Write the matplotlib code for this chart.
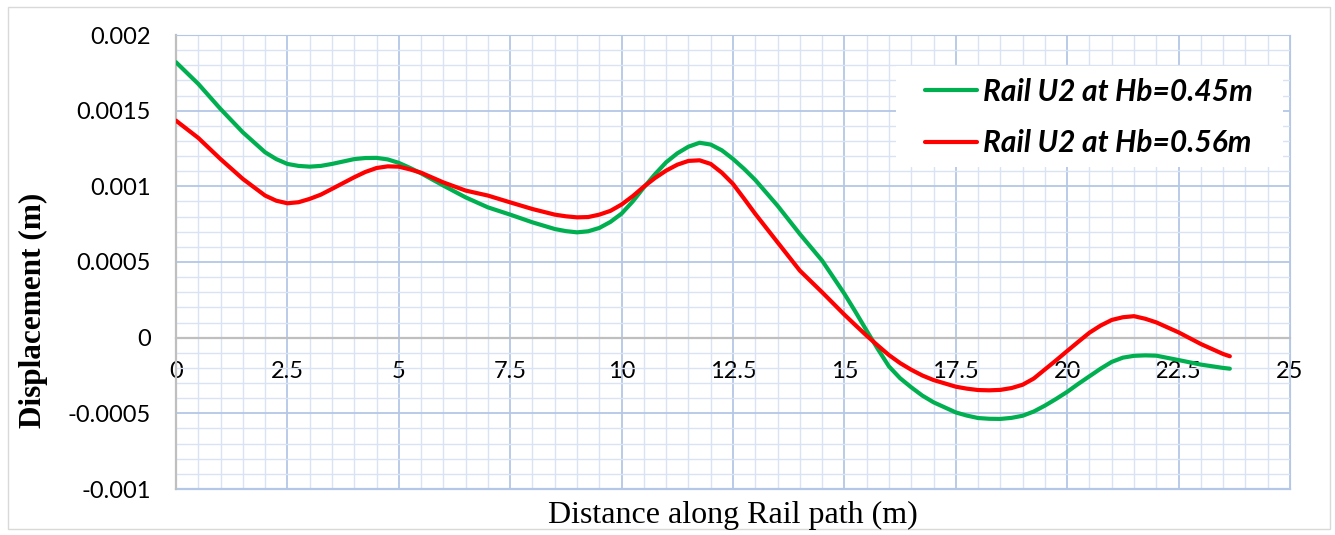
import matplotlib
matplotlib.use('Agg')
import matplotlib.pyplot as plt
from matplotlib.patches import Rectangle
from matplotlib.ticker import MultipleLocator

# data (distance in m, displacement in m)
distance = [0.0, 0.5, 1.0, 1.5, 2.0,
            2.25, 2.5, 2.75, 3.0, 3.25, 3.5,
            4.0, 4.25, 4.5, 4.75, 5.0, 5.25, 5.5,
            6.0, 6.5, 7.0, 7.5, 8.0, 8.5,
            8.75, 9.0, 9.25, 9.5, 9.75, 10.0,
            10.25, 10.5, 10.75, 11.0, 11.25, 11.5,
            11.75, 12.0, 12.25, 12.5, 12.75, 13.0,
            13.5, 14.0, 14.5, 15.0,
            15.25, 15.5, 15.75, 16.0, 16.25, 16.5,
            16.75, 17.0, 17.5, 17.75, 18.0, 18.25,
            18.5, 18.75, 19.0, 19.25, 19.5, 19.75,
            20.0, 20.25, 20.5, 20.75, 21.0, 21.25,
            21.5, 21.75, 22.0, 22.5, 23.0, 23.5, 23.65]

u2_hb045 = [0.001820, 0.001677, 0.001511, 0.001357, 0.001225,
            0.001180, 0.001148, 0.001135, 0.001130, 0.001135, 0.001148,
            0.001180, 0.001187, 0.001188, 0.001178, 0.001155, 0.001122, 0.001086,
            0.001005, 0.000927, 0.000861, 0.000813, 0.000762, 0.000718,
            0.000704, 0.000696, 0.000703, 0.000725, 0.000765, 0.000820,
            0.000900, 0.000993, 0.001080, 0.001159, 0.001218, 0.001262,
            0.001288, 0.001276, 0.001238, 0.001181, 0.001115, 0.001042,
            0.000872, 0.000685, 0.000509, 0.000290,
            0.000170, 0.000046, -0.000075, -0.000190, -0.000268, -0.000328,
            -0.000383, -0.000427, -0.000494, -0.000515, -0.000531, -0.000536,
            -0.000537, -0.000530, -0.000516, -0.000488, -0.000449, -0.000405,
            -0.000358, -0.000305, -0.000255, -0.000205, -0.000160, -0.000132,
            -0.000120, -0.000117, -0.000119, -0.000148, -0.000178, -0.000200, -0.000205]

u2_hb056 = [0.001434, 0.001320, 0.001180, 0.001049, 0.000939,
            0.000905, 0.000888, 0.000895, 0.000917, 0.000945, 0.000983,
            0.001060, 0.001095, 0.001121, 0.001132, 0.001130, 0.001112, 0.001090,
            0.001026, 0.000972, 0.000939, 0.000894, 0.000850, 0.000813,
            0.000802, 0.000795, 0.000797, 0.000813, 0.000838, 0.000880,
            0.000935, 0.000998, 0.001055, 0.001104, 0.001143, 0.001168,
            0.001172, 0.001148, 0.001090, 0.001016, 0.000918, 0.000818,
            0.000630, 0.000443, 0.000300, 0.000152,
            0.000082, 0.000013, -0.000052, -0.000115, -0.000168, -0.000212,
            -0.000250, -0.000280, -0.000324, -0.000337, -0.000346, -0.000348,
            -0.000345, -0.000333, -0.000311, -0.000270, -0.000210, -0.000150,
            -0.000088, -0.000027, 0.000033, 0.000080, 0.000117, 0.000135,
            0.000142, 0.000125, 0.000101, 0.000035, -0.000042, -0.000108, -0.000123]

x_ticks = [0, 2.5, 5, 7.5, 10, 12.5, 15, 17.5, 20, 22.5, 25]
x_tick_labels = ['0', '2.5', '5', '7.5', '10', '12.5', '15', '17.5', '20', '22.5', '25']
y_ticks = [-0.001, -0.0005, 0, 0.0005, 0.001, 0.0015, 0.002]
y_tick_labels = ['-0.001', '-0.0005', '0', '0.0005', '0.001', '0.0015', '0.002']

labels = ['Rail U2 at Hb=0.45m', 'Rail U2 at Hb=0.56m']
colors = ['#00B050', '#FF0000']

#%% figure
fig = plt.figure(figsize=(13.35, 5.35), dpi=100)
fig.patches.append(Rectangle((8/1335, 6/535), 1322/1335, 522/535, transform=fig.transFigure,
                             fill=False, edgecolor='#d9d9d9', linewidth=1.0))
ax = fig.add_axes([176/1335, 1-489/535, 1114/1335, 454/535])

# x axis line sits on zero, labels go under it (do this before the tick labels)
ax.spines['bottom'].set_position(('data', 0))
ax.spines['bottom'].set_color('#bfbfbf')
ax.spines['bottom'].set_linewidth(1.6)
ax.spines['left'].set_color('#bfbfbf')
ax.spines['left'].set_linewidth(1.6)
ax.spines['top'].set_color('#b4c7e7')
ax.spines['right'].set_color('#b4c7e7')

ax.plot(distance, u2_hb045, color=colors[0], linewidth=3.0, label=labels[0],
        zorder=3, solid_joinstyle='round', solid_capstyle='round')
ax.plot(distance, u2_hb056, color=colors[1], linewidth=3.0, label=labels[1],
        zorder=3, solid_joinstyle='round', solid_capstyle='round')

ax.set_xlim(0, 25)
ax.set_ylim(-0.001, 0.002)
ax.set_xticks(x_ticks)
ax.set_xticklabels(x_tick_labels, fontfamily='Lato', fontsize=17)
ax.set_yticks(y_ticks)
ax.set_yticklabels(y_tick_labels, fontfamily='Lato', fontsize=17)
ax.xaxis.set_minor_locator(MultipleLocator(0.5))
ax.yaxis.set_minor_locator(MultipleLocator(0.0001))
ax.tick_params(which='both', length=0)
ax.tick_params(axis='y', pad=18)
ax.tick_params(axis='x', pad=17)

ax.grid(True, which='major', color='#b4c7e7', linewidth=1.3, zorder=0)
ax.grid(True, which='minor', color='#dae3f3', linewidth=1.0, zorder=0)
ax.set_axisbelow(True)
ax.axhline(-0.001, color='#b4c7e7', linewidth=1.6, zorder=1, clip_on=False)

fig.text(33/1335, 1-310/535, 'Displacement (m)', fontfamily='Liberation Serif',
         fontweight='bold', fontsize=22.5, rotation=90, ha='center', va='center')
fig.text(733/1335, 1-515/535, 'Distance along Rail path (m)', fontfamily='Liberation Serif',
         fontsize=23, ha='center', va='center')

# legend: white box over the grid, entries placed inside it
ax.add_patch(Rectangle((0.6463, 0.7093), 0.3474, 0.2224, transform=ax.transAxes,
                       facecolor='white', edgecolor='none', zorder=4))
leg = ax.legend(loc='center left', bbox_to_anchor=(0.6724, 0.8183), borderaxespad=0,
                prop={'family': 'Lato', 'weight': 'bold', 'style': 'italic', 'size': 21.5},
                frameon=False, handlelength=1.75, handletextpad=0.2, labelspacing=0.78,
                borderpad=0)
leg.set_zorder(5)

fig.savefig('out.png', dpi=100)
